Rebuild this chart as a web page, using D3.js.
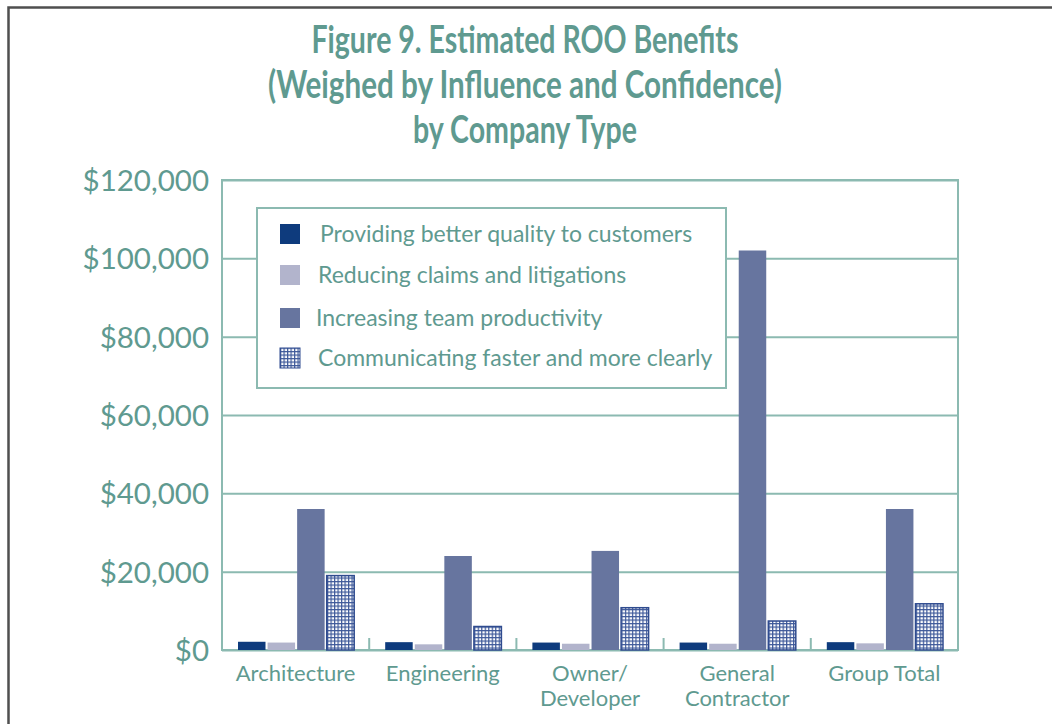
<!DOCTYPE html>
<html>
<head>
<meta charset="utf-8">
<script src="https://cdn.jsdelivr.net/npm/d3@7"></script>
<style>
    body { margin: 0; background: #fff; }
    svg { display: block; font-family: Lato, "Open Sans", sans-serif; }
</style>
</head>
<body>
<div id="chart"></div>
<script>
// Chart data
var categories = ["Architecture", "Engineering", "Owner/\nDeveloper", "General\nContractor", "Group Total"];
var seriesNames = [
    "Providing better quality to customers",
    "Reducing claims and litigations",
    "Increasing team productivity",
    "Communicating faster and more clearly"
];
var quality = [2100, 2000, 1900, 1900, 2000];
var claims = [1900, 1450, 1600, 1600, 1700];
var productivity = [36000, 24000, 25300, 102000, 36000];
var communicating = [19000, 6000, 10800, 7400, 11800];
var yTicks = [0, 20000, 40000, 60000, 80000, 100000, 120000];
var titleLines = ["Figure 9. Estimated ROO Benefits", "(Weighed by Influence and Confidence)", "by Company Type"];

var teal = "#5f9a90",
    gridColor = "#8cbab1",
    colors = ["#0e3b7d", "#b2b4cc", "#67759f", "url(#grid-pattern)"];

var width = 1052, height = 724,
    plot = {left: 222, top: 180, right: 958, bottom: 650};

var svg = d3.select("#chart")
    .append("svg")
    .attr("width", width)
    .attr("height", height);

// hatch pattern for the last series
var pat = svg.append("defs").append("pattern")
    .attr("id", "grid-pattern")
    .attr("patternUnits", "userSpaceOnUse")
    .attr("width", 3.5)
    .attr("height", 3.5);
pat.append("rect").attr("width", 3.5).attr("height", 3.5).attr("fill", "#3d5899");
pat.append("rect").attr("x", 1.2).attr("y", 1.2).attr("width", 2.3).attr("height", 2.3).attr("fill", "#fff");

// outer frame
svg.append("path")
    .attr("d", "M8.5," + height + "V7.5H" + width)
    .attr("fill", "none")
    .attr("stroke", "#4f4f4f")
    .attr("stroke-width", 2.5);

// title
svg.append("g").selectAll("text")
    .data(titleLines)
    .enter()
    .append("text")
    .attr("x", 525)
    .attr("y", function (d, i) { return 53 + i * 45; })
    .attr("text-anchor", "middle")
    .attr("fill", teal)
    .style("font-size", "38px")
    .style("font-weight", 700)
    .attr("textLength", function (d, i) { return [427, 514, 224][i]; })
    .attr("lengthAdjust", "spacingAndGlyphs")
    .text(function (d) { return d; });

var x0 = d3.scaleBand()
    .domain(categories)
    .range([plot.left, plot.right]);

var x1 = d3.scaleBand()
    .domain(d3.range(seriesNames.length))
    .range([16, x0.bandwidth() - 15])
    .paddingInner(0.07);

var y = d3.scaleLinear()
    .domain([0, 120000])
    .range([plot.bottom, plot.top]);

// gridlines
svg.append("g")
    .attr("class", "grid")
    .attr("transform", "translate(" + plot.left + ",0)")
    .call(d3.axisLeft(y).tickValues(yTicks).tickSize(-(plot.right - plot.left)).tickFormat(""))
    .call(function (g) {
        g.select(".domain").remove();
        g.selectAll("line").attr("stroke", gridColor).attr("stroke-width", 2);
    });

// y axis labels
svg.append("g")
    .attr("class", "y axis")
    .attr("transform", "translate(" + plot.left + ",0)")
    .call(d3.axisLeft(y).tickValues(yTicks).tickSize(0).tickPadding(13)
        .tickFormat(function (d) { return "$" + d3.format(",")(d); }))
    .call(function (g) {
        g.select(".domain").remove();
        g.selectAll("text")
            .attr("fill", teal)
            .attr("dy", "0.36em")
            .style("font-size", "29.5px")
            .style("font-family", "Lato, sans-serif");
    });

// plot border
svg.append("rect")
    .attr("x", plot.left)
    .attr("y", plot.top)
    .attr("width", plot.right - plot.left)
    .attr("height", plot.bottom - plot.top)
    .attr("fill", "none")
    .attr("stroke", gridColor)
    .attr("stroke-width", 2);

// separator ticks between groups
svg.append("g").selectAll("line")
    .data(categories.slice(1))
    .enter()
    .append("line")
    .attr("x1", function (d) { return x0(d); })
    .attr("x2", function (d) { return x0(d); })
    .attr("y1", plot.bottom - 12)
    .attr("y2", plot.bottom)
    .attr("stroke", gridColor)
    .attr("stroke-width", 2);

// bars
var series = [quality, claims, productivity, communicating];
var groups = svg.append("g").selectAll("g")
    .data(categories)
    .enter()
    .append("g")
    .attr("transform", function (d) { return "translate(" + x0(d) + ",0)"; });

groups.selectAll("rect")
    .data(function (d, i) {
        return series.map(function (s, k) { return {k: k, value: s[i]}; });
    })
    .enter()
    .append("rect")
    .attr("x", function (d) { return x1(d.k); })
    .attr("y", function (d) { return y(d.value); })
    .attr("width", x1.bandwidth())
    .attr("height", function (d) { return plot.bottom - y(d.value); })
    .attr("fill", function (d) { return colors[d.k]; })
    .attr("stroke", function (d) { return d.k === 3 ? "#2f4b8f" : "none"; })
    .attr("stroke-width", 1.5);

// x labels
svg.append("g").selectAll("text")
    .data(categories)
    .enter()
    .append("text")
    .attr("x", function (d) { return x0(d) + x0.bandwidth() / 2; })
    .attr("y", 681)
    .attr("text-anchor", "middle")
    .attr("fill", teal)
    .style("font-size", "22px")
    .each(function (d) {
        var el = d3.select(this);
        d.split("\n").forEach(function (line, i) {
            el.append("tspan")
                .attr("x", x0(d) + x0.bandwidth() / 2)
                .attr("dy", i === 0 ? 0 : 25)
                .text(line);
        });
    });

// legend
var legend = svg.append("g").attr("class", "legend");
legend.append("rect")
    .attr("x", 257)
    .attr("y", 208)
    .attr("width", 469)
    .attr("height", 180)
    .attr("fill", "#fff")
    .attr("stroke", gridColor)
    .attr("stroke-width", 2);

var rowY = [234, 275, 318, 358];
var item = legend.selectAll("g.item")
    .data(seriesNames)
    .enter()
    .append("g")
    .attr("class", "item")
    .attr("transform", function (d, i) { return "translate(280," + rowY[i] + ")"; });

item.append("rect")
    .attr("x", 0)
    .attr("y", -10)
    .attr("width", 20)
    .attr("height", 20)
    .attr("fill", function (d, i) { return colors[i]; })
    .attr("stroke", function (d, i) { return i === 3 ? "#2f4b8f" : "none"; })
    .attr("stroke-width", 1);

item.append("text")
    .attr("x", function (d, i) { return [40, 38, 36, 38][i]; })
    .attr("y", 0)
    .attr("dy", "0.35em")
    .attr("fill", teal)
    .style("font-size", "23px")
    .text(function (d) { return d; });
</script>
</body>
</html>
